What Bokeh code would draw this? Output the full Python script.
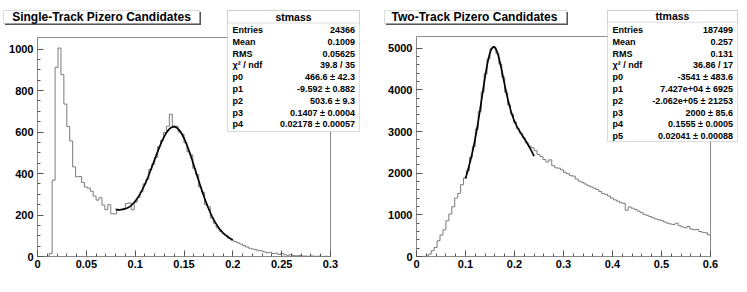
import numpy as np
from bokeh.plotting import figure
from bokeh.layouts import row
from bokeh.models import Label, BoxAnnotation, FixedTicker, Range1d
from bokeh.embed import file_html
from bokeh.resources import INLINE

# ---------------- data ----------------
st_title = "Single-Track Pizero Candidates"
st_name = "stmass"
st_xlim = [0.0, 0.3]
st_ymax = 1056
st_counts = [
    0, 0, 0, 0, 15, 368, 912, 1005, 877, 735,
    627, 557, 432, 384, 386, 357, 335, 330, 315, 291,
    272, 283, 248, 226, 250, 206, 205, 222, 226, 232,
    255, 258, 225, 262, 285, 312, 350, 372, 420, 445,
    478, 530, 560, 598, 628, 686, 630, 628, 600, 590,
    548, 505, 490, 425, 395, 335, 310, 250, 240, 185,
    160, 138, 122, 110, 102, 88, 78, 72, 66, 60,
    52, 46, 40, 36, 33, 28, 27, 22, 18, 20,
    14, 16, 10, 15, 8, 6, 9, 4, 3, 5,
    2, 2, 1, 3, 1, 1, 2, 0, 1, 0,
]
st_fit_params = [466.6, -9.592, 503.6, 0.1407, 0.02178]   # expo + gaus
st_fit_range = [0.08, 0.2]
st_xticks = [0, 0.05, 0.1, 0.15, 0.2, 0.25, 0.3]
st_xtick_labels = ["0", "0.05", "0.1", "0.15", "0.2", "0.25", "0.3"]
st_yticks = [0, 200, 400, 600, 800, 1000]
st_ytick_labels = ["0", "200", "400", "600", "800", "1000"]
st_stat_names = ["Entries", "Mean", "RMS", "\u03c7\u00b2 / ndf", "p0", "p1", "p2", "p3", "p4"]
st_stat_values = ["24366", "0.1009", "0.05625", "39.8 / 35", "466.6 \u00b1 42.3",
                  "-9.592 \u00b1 0.882", "503.6 \u00b1 9.3", "0.1407 \u00b1 0.0004",
                  "0.02178 \u00b1 0.00057"]

tt_title = "Two-Track Pizero Candidates"
tt_name = "ttmass"
tt_xlim = [0.0, 0.6]
tt_ymax = 5282
tt_counts = [
    0, 0, 0, 8, 58, 140, 216, 377, 514, 640,
    858, 1019, 1195, 1404, 1514, 1724, 1885, 2060, 2380, 2640,
    3060, 3480, 3950, 4390, 4740, 4990, 5030, 4880, 4620, 4310,
    3940, 3640, 3420, 3220, 3070, 2960, 2850, 2730, 2650, 2610,
    2540, 2450, 2400, 2330, 2270, 2320, 2180, 2130, 2120, 2080,
    2020, 1990, 1940, 1930, 1860, 1810, 1780, 1740, 1700, 1670,
    1640, 1610, 1560, 1510, 1490, 1450, 1400, 1360, 1330, 1290,
    1280, 1110, 1190, 1160, 1130, 1090, 1060, 1010, 990, 960,
    930, 900, 880, 860, 830, 800, 780, 770, 800, 740,
    710, 690, 720, 660, 640, 650, 600, 580, 570, 520,
]
tt_fit_params = [-3541.0, 7.427e4, -2.062e5, 2000.0, 0.1555, 0.02041]  # pol2 + gaus
tt_fit_range = [0.1, 0.24]
tt_xticks = [0, 0.1, 0.2, 0.3, 0.4, 0.5, 0.6]
tt_xtick_labels = ["0", "0.1", "0.2", "0.3", "0.4", "0.5", "0.6"]
tt_yticks = [0, 1000, 2000, 3000, 4000, 5000]
tt_ytick_labels = ["0", "1000", "2000", "3000", "4000", "5000"]
tt_stat_names = ["Entries", "Mean", "RMS", "\u03c7\u00b2 / ndf", "p0", "p1", "p2", "p3", "p4", "p5"]
tt_stat_values = ["187499", "0.257", "0.131", "36.86 / 17", "-3541 \u00b1 483.6",
                  "7.427e+04 \u00b1 6925", "-2.062e+05 \u00b1 21253", "2000 \u00b1 85.6",
                  "0.1555 \u00b1 0.0005", "0.02041 \u00b1 0.00088"]


def st_fit(x, p):
    return p[0] * np.exp(p[1] * x) + p[2] * np.exp(-0.5 * ((x - p[3]) / p[4]) ** 2)


def tt_fit(x, p):
    return p[0] + p[1] * x + p[2] * x ** 2 + p[3] * np.exp(-0.5 * ((x - p[4]) / p[5]) ** 2)


# ---------------- styling ----------------
FONT = "Liberation Sans"
GREY = "#8a8a8a"
HIST = "#7a7a7a"
H = 292


def panel(ox, width, frame_px, xlim, ymax, counts, fitf, params, frange,
          xticks, xlabels, yticks, ylabels, x_minor, y_minor,
          title, title_box, title_cx, name, stat_box, sep_y, names, values,
          row_y0, row_dy, name_x, value_x):
    fl, fr, ft, fb = frame_px          # data-frame edges, canvas pixels
    sx = (xlim[1] - xlim[0]) / (fr - fl)
    sy = ymax / (fb - ft)
    xr = Range1d(xlim[0] - fl * sx, xlim[1] + (width - fr) * sx)
    yr = Range1d(-(H - fb) * sy, ymax + ft * sy)
    p = figure(width=width, height=H, x_range=xr, y_range=yr,
               toolbar_location=None, output_backend="svg", title=None,
               min_border_left=0, min_border_right=0, min_border_top=0,
               min_border_bottom=0)
    p.background_fill_color = "white"
    p.border_fill_color = "white"
    p.outline_line_color = None
    p.xgrid.visible = False
    p.ygrid.visible = False

    def dx(px):   # window px -> data x
        return xlim[0] + (px - ox - fl) * sx

    def dy(py):   # window px -> data y
        return (fb - py) * sy

    for ax, ticks, labels, nminor in ((p.xaxis[0], xticks, xlabels, x_minor),
                                      (p.yaxis[0], yticks, ylabels, y_minor)):
        ax.fixed_location = 0
        ax.ticker = FixedTicker(ticks=ticks, minor_ticks=list(
            np.linspace(ticks[0], ticks[-1], (len(ticks) - 1) * nminor + 1)))
        ax.major_label_overrides = dict(zip(ticks, labels))
        ax.axis_line_color = None
        ax.major_tick_line_color = "#555555"
        ax.minor_tick_line_color = "#555555"
        ax.major_tick_in = 6
        ax.major_tick_out = 0
        ax.minor_tick_in = 3
        ax.minor_tick_out = 0
        ax.major_label_text_font = FONT
        ax.major_label_text_font_style = "bold"
        ax.major_label_text_font_size = "11px"
        ax.major_label_text_color = "black"
    p.xaxis.major_label_standoff = 3
    p.yaxis.major_label_standoff = 4

    # data frame outline (ROOT pad frame)
    p.quad(left=[xlim[0]], right=[xlim[1]], bottom=[0], top=[ymax],
           fill_color=None, line_color=GREY, line_width=1)

    nb = len(counts)
    edges = np.linspace(xlim[0], xlim[1], nb + 1)
    p.step(x=edges, y=list(counts) + [counts[-1]], mode="after",
           line_color=HIST, line_width=1)

    xf = np.linspace(frange[0], frange[1], 300)
    p.line(x=xf, y=fitf(xf, params), line_color="black", line_width=1.7)

    # title box with ROOT-style shadow
    l, r, t, b = title_box
    p.add_layout(BoxAnnotation(left=dx(l + 1.5), right=dx(r + 1.5), top=dy(t + 1.5),
                               bottom=dy(b + 1.5), fill_color="#555555", fill_alpha=1.0,
                               line_color=None))
    p.add_layout(BoxAnnotation(left=dx(l), right=dx(r), top=dy(t), bottom=dy(b),
                               fill_color="white", fill_alpha=1.0,
                               line_color=GREY, line_width=1))
    p.add_layout(Label(x=dx(title_cx), y=dy((t + b) / 2), text=title, text_align="center",
                       text_baseline="middle", text_font=FONT, text_font_style="bold",
                       text_font_size="12px", text_color="black"))

    # stats box
    l, r, t, b = stat_box
    p.add_layout(BoxAnnotation(left=dx(l), right=dx(r), top=dy(t), bottom=dy(b),
                               fill_color="white", fill_alpha=1.0,
                               line_color=GREY, line_width=1))
    p.add_layout(BoxAnnotation(left=dx(l), right=dx(r), top=dy(t), bottom=dy(sep_y),
                               fill_color="white", fill_alpha=1.0,
                               line_color=GREY, line_width=1))
    p.add_layout(Label(x=dx((l + r) / 2), y=dy((t + sep_y) / 2), text=name,
                       text_align="center", text_baseline="middle", text_font=FONT,
                       text_font_style="bold", text_font_size="10.5px", text_color="black"))
    for i, (nm, vl) in enumerate(zip(names, values)):
        yy = dy(row_y0 + i * row_dy)
        p.add_layout(Label(x=dx(name_x), y=yy, text=nm, text_align="left",
                           text_baseline="middle", text_font=FONT, text_font_style="bold",
                           text_font_size="9px", text_color="black"))
        p.add_layout(Label(x=dx(value_x), y=yy, text=vl, text_align="right",
                           text_baseline="middle", text_font=FONT, text_font_style="bold",
                           text_font_size="9px", text_color="black"))
    return p


p1 = panel(0, 373, (37, 330, 37, 256), st_xlim, st_ymax, st_counts, st_fit, st_fit_params,
           st_fit_range, st_xticks, st_xtick_labels, st_yticks, st_ytick_labels, 5, 4,
           st_title, (3, 199, 10, 23), 101, st_name, (227, 359, 10, 131), 22.5,
           st_stat_names, st_stat_values, 29.5, 11.8, 232, 354.5)

p2 = panel(373, 374, (43, 337, 36, 256), tt_xlim, tt_ymax, tt_counts, tt_fit, tt_fit_params,
           tt_fit_range, tt_xticks, tt_xtick_labels, tt_yticks, tt_ytick_labels, 5, 5,
           tt_title, (384, 566, 10, 23), 474, tt_name, (607, 737, 10, 141), 21.7,
           tt_stat_names, tt_stat_values, 29.5, 11.8, 612, 732.5)

layout = row(p1, p2, spacing=0)
open("out.html", "w").write(file_html(layout, INLINE))
